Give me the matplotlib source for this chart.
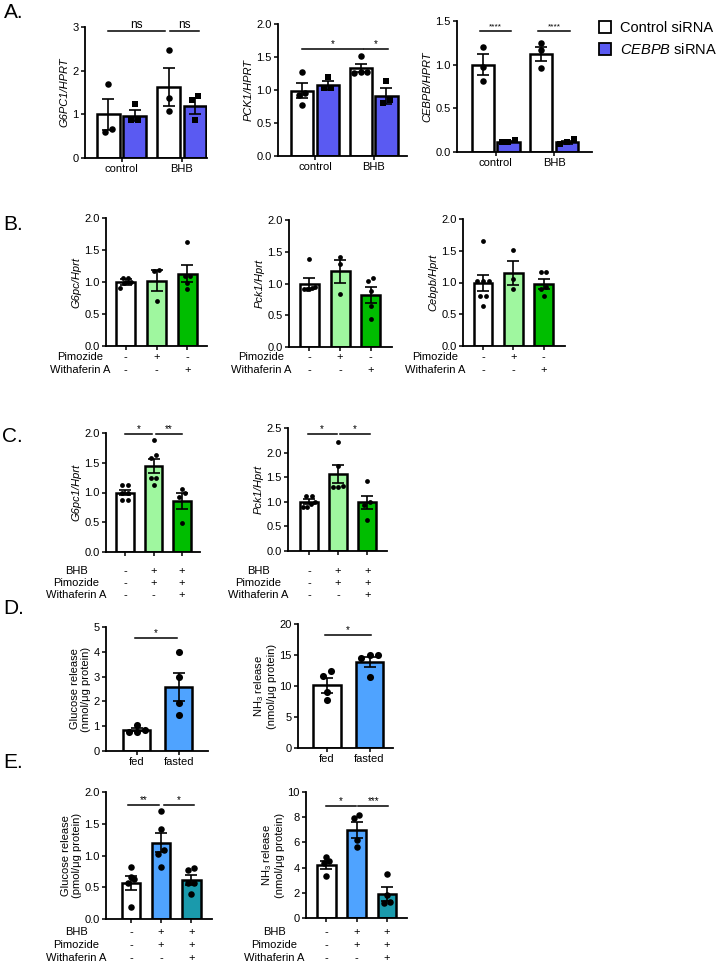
import numpy as np
import matplotlib
matplotlib.use('Agg')
import matplotlib.pyplot as plt
from matplotlib.patches import Patch
from matplotlib import transforms

plt.rcParams['font.family'] = ['Liberation Sans', 'DejaVu Sans']
plt.rcParams['mathtext.fontset'] = 'custom'
plt.rcParams['mathtext.rm'] = 'Liberation Sans'
plt.rcParams['mathtext.it'] = 'Liberation Sans:italic'

W, H = 716, 964

# colores
c_white = 'white'
c_siblue = '#5a5af2'
c_lgreen = '#9ff79f'
c_green = '#00bd00'
c_lblue = '#4fa3ff'
c_teal = '#1a9aac'

# ---- Panel A (control, BHB) ----
A_groups = ['control', 'BHB']
g6pc1_ctrl_mean = [1.0, 1.63]
g6pc1_ctrl_sem = [0.35, 0.43]
g6pc1_ctrl_pts = [[0.60, 0.66, 1.69], [2.47, 1.38, 1.08]]
g6pc1_kd_mean = [0.97, 1.19]
g6pc1_kd_sem = [0.13, 0.18]
g6pc1_kd_pts = [[0.86, 0.86, 1.24], [1.42, 1.32, 0.86]]

pck1_ctrl_mean = [0.99, 1.33]
pck1_ctrl_sem = [0.11, 0.06]
pck1_ctrl_pts = [[1.28, 0.95, 0.93, 0.77], [1.51, 1.27, 1.25, 1.28]]
pck1_kd_mean = [1.07, 0.91]
pck1_kd_sem = [0.07, 0.12]
pck1_kd_pts = [[1.19, 1.03, 1.03], [1.14, 0.81, 0.85]]

cebpb_ctrl_mean = [1.0, 1.12]
cebpb_ctrl_sem = [0.12, 0.08]
cebpb_ctrl_pts = [[1.20, 0.97, 0.81], [1.25, 1.17, 0.96]]
cebpb_kd_mean = [0.12, 0.11]
cebpb_kd_sem = [0.01, 0.02]
cebpb_kd_pts = [[0.12, 0.14, 0.12], [0.09, 0.15, 0.11]]

# ---- Panel B ----
b_g6pc_mean = [1.0, 1.02, 1.13]
b_g6pc_sem = [0.04, 0.16, 0.13]
b_g6pc_pts = [[1.07, 1.07, 0.91, 1.0, 1.0, 0.98], [1.19, 1.17, 0.70], [1.63, 1.09, 1.09, 0.99, 0.89]]
b_pck1_mean = [1.0, 1.19, 0.82]
b_pck1_sem = [0.08, 0.18, 0.12]
b_pck1_pts = [[1.38, 0.92, 0.92, 0.92, 0.93, 0.94], [1.42, 1.31, 0.84], [1.09, 1.04, 0.88, 0.64, 0.44]]
b_cebpb_mean = [0.99, 1.15, 0.98]
b_cebpb_sem = [0.13, 0.19, 0.08]
b_cebpb_pts = [[1.66, 1.03, 1.03, 1.03, 0.79, 0.79, 0.63], [1.51, 1.06, 0.89], [1.16, 1.16, 0.93, 0.90, 0.79]]
B_pimozide = ['-', '+', '-']
B_withaferin = ['-', '-', '+']

# ---- Panel C ----
c_g6pc1_mean = [1.0, 1.45, 0.86]
c_g6pc1_sem = [0.05, 0.12, 0.13]
c_g6pc1_pts = [[1.12, 1.12, 1.0, 1.0, 0.88, 0.88], [1.89, 1.63, 1.58, 1.25, 1.25, 1.12], [1.06, 0.99, 0.93, 0.48]]
c_pck1_mean = [1.0, 1.57, 0.99]
c_pck1_sem = [0.05, 0.18, 0.13]
c_pck1_pts = [[1.12, 1.12, 1.0, 0.96, 0.90, 0.90], [2.21, 1.72, 1.32, 1.31, 1.31], [1.42, 0.99, 0.93, 0.63]]
CE_bhb = ['-', '+', '+']
CE_pimozide = ['-', '+', '+']
CE_withaferin = ['-', '-', '+']

# ---- Panel D ----
D_groups = ['fed', 'fasted']
d_glc_mean = [0.86, 2.59]
d_glc_sem = [0.07, 0.57]
d_glc_pts = [[1.05, 0.85, 0.78, 0.76], [4.0, 2.99, 1.94, 1.45]]
d_nh3_mean = [10.1, 13.9]
d_nh3_sem = [1.2, 0.8]
d_nh3_pts = [[12.4, 11.6, 9.0, 7.7], [15.0, 15.0, 14.5, 11.5]]

# ---- Panel E ----
e_glc_mean = [0.57, 1.20, 0.62]
e_glc_sem = [0.11, 0.15, 0.08]
e_glc_pts = [[0.82, 0.66, 0.63, 0.57, 0.19], [1.70, 1.41, 1.09, 1.03, 0.82], [0.81, 0.77, 0.57, 0.56, 0.40]]
e_nh3_mean = [4.2, 6.97, 1.93]
e_nh3_sem = [0.35, 0.62, 0.57]
e_nh3_pts = [[4.87, 4.5, 4.4, 3.3], [8.16, 7.9, 6.18, 5.66], [3.47, 1.84, 1.18, 1.24]]

fig = plt.figure(figsize=(W / 100, H / 100), dpi=100)

FS = 8


def px_axes(x0, x1, ytop, ybot):
    ax = fig.add_axes([x0 / W, 1 - ybot / H, (x1 - x0) / W, (ybot - ytop) / H])
    for s in ['top', 'right']:
        ax.spines[s].set_visible(False)
    for s in ['left', 'bottom']:
        ax.spines[s].set_linewidth(1.3)
    ax.tick_params(labelsize=FS, width=1.1, length=3, pad=1.5)
    return ax


def swarm(vals, thr, step, maxspan):
    # puntos cercanos en y se reparten en horizontal
    vals = np.asarray(vals, float)
    order = np.argsort(vals)
    offs = np.zeros(len(vals))
    clusters = [[order[0]]]
    for i in order[1:]:
        if vals[i] - vals[clusters[-1][0]] < thr:
            clusters[-1].append(i)
        else:
            clusters.append([i])
    for c in clusters:
        k = len(c)
        st = step if k < 2 else min(step, maxspan / (k - 1))
        o = (np.arange(k) - (k - 1) / 2) * st
        for j, idx in enumerate(c):
            offs[idx] = o[j]
    return offs


def bar_set(ax, xs, means, sems, pts, colors, width, ymax, marker='o', ms=13):
    ax.bar(xs, means, width, color=colors, edgecolor='black', linewidth=1.8, zorder=2)
    ax.errorbar(xs, means, yerr=sems, fmt='none', ecolor='black', elinewidth=1.2,
                capsize=4, capthick=1.2, zorder=3)
    for x, p in zip(xs, pts):
        off = swarm(p, 0.045 * ymax, width * 0.3, width * 0.62)
        ax.scatter(x + off, p, s=ms, color='black', marker=marker, zorder=4, linewidths=0)


def sig(ax, x1, x2, y, txt, fs=7):
    ax.plot([x1, x2], [y, y], color='black', lw=1.1, clip_on=False, zorder=5)
    ax.text((x1 + x2) / 2, y, txt, ha='center', va='bottom', fontsize=fs, clip_on=False)


def table(ax, label_x, rows, ys):
    tr = transforms.blended_transform_factory(ax.transData, fig.transFigure)
    for (lab, signs), y in zip(rows, ys):
        fig.text(label_x / W, 1 - y / H, lab, ha='center', va='center', fontsize=FS)
        for i, s in enumerate(signs):
            ax.text(i, 1 - y / H, s, transform=tr, ha='center', va='center', fontsize=FS)


def panel_a(box, ylim, xlim, yticks, ylabel, cm, cs, cp, km, ks, kp):
    ax = px_axes(*box)
    xs = np.arange(len(A_groups))
    off, w = 0.22, 0.38
    bar_set(ax, xs - off, cm, cs, cp, c_white, w, ylim[1], 'o', 22)
    bar_set(ax, xs + off, km, ks, kp, c_siblue, w, ylim[1], 's', 20)
    ax.set_xlim(*xlim)
    ax.set_ylim(*ylim)
    ax.set_yticks(yticks)
    ax.set_xticks(xs)
    ax.set_xticklabels(A_groups, fontsize=FS)
    ax.set_ylabel(ylabel, fontsize=FS, style='italic', labelpad=2)
    return ax, xs, off


# A1
ax, xs, off = panel_a((85, 207, 27, 158), (0, 3), (-0.61, 1.42), [0, 1, 2, 3], 'G6PC1/HPRT',
                      g6pc1_ctrl_mean, g6pc1_ctrl_sem, g6pc1_ctrl_pts, g6pc1_kd_mean, g6pc1_kd_sem, g6pc1_kd_pts)
ax.set_yticklabels(['0', '1', '2', '3'])
sig(ax, xs[0] - off, xs[1] - off - 0.06, 2.9, 'ns', 8.5)
sig(ax, xs[1] - off + 0.02, xs[1] + off + 0.06, 2.9, 'ns', 8.5)

# A2
ax, xs, off = panel_a((278, 407, 24, 156), (0, 2), (-0.63, 1.57), [0, 0.5, 1.0, 1.5, 2.0], 'PCK1/HPRT',
                      pck1_ctrl_mean, pck1_ctrl_sem, pck1_ctrl_pts, pck1_kd_mean, pck1_kd_sem, pck1_kd_pts)
ax.set_yticklabels(['0.0', '0.5', '1.0', '1.5', '2.0'])
sig(ax, xs[0] - off, xs[1] - off + 0.04, 1.62, '*')
sig(ax, xs[1] - off + 0.06, xs[1] + off + 0.02, 1.62, '*')

# A3
ax, xs, off = panel_a((457, 592, 21, 152), (0, 1.5), (-0.66, 1.65), [0, 0.5, 1.0, 1.5], 'CEBPB/HPRT',
                      cebpb_ctrl_mean, cebpb_ctrl_sem, cebpb_ctrl_pts, cebpb_kd_mean, cebpb_kd_sem, cebpb_kd_pts)
ax.set_yticklabels(['0.0', '0.5', '1.0', '1.5'])
for g in xs:
    sig(ax, g - off - 0.05, g + off + 0.05, 1.39, '****', 6)

fig.legend(handles=[Patch(facecolor='white', edgecolor='black', linewidth=1.3),
                    Patch(facecolor=c_siblue, edgecolor='black', linewidth=1.3)],
           labels=['Control siRNA', r'$\it{CEBPB}$ siRNA'],
           loc='upper left', bbox_to_anchor=(599 / W, 1 - 21 / H), frameon=False,
           fontsize=10.5, handlelength=0.85, handleheight=0.85, handletextpad=0.6,
           labelspacing=0.5, borderaxespad=0, borderpad=0)


def panel_3(box, xlim, ylim, yticks, yticklabels, means, sems, pts, colors, ylabel, italic=True, w=0.62, ms=12):
    ax = px_axes(*box)
    xs = np.arange(3)
    bar_set(ax, xs, means, sems, pts, colors, w, ylim[1], 'o', ms)
    ax.set_xlim(*xlim)
    ax.set_ylim(*ylim)
    ax.set_yticks(yticks)
    ax.set_yticklabels(yticklabels)
    ax.set_xticks(xs)
    ax.set_xticklabels([])
    ax.set_ylabel(ylabel, fontsize=FS, style='italic' if italic else 'normal', labelpad=2, linespacing=1.1)
    return ax, xs


t2 = [0, 0.5, 1.0, 1.5, 2.0]
t2l = ['0.0', '0.5', '1.0', '1.5', '2.0']
greens = [c_white, c_lgreen, c_green]
blues = [c_white, c_lblue, c_teal]

# B
ax, xs = panel_3((106, 207, 218, 346), (-0.63, 2.63), (0, 2), t2, t2l, b_g6pc_mean, b_g6pc_sem, b_g6pc_pts, greens, 'G6pc/Hprt')
table(ax, 80, [('Pimozide', B_pimozide), ('Withaferin A', B_withaferin)], [357, 370])
ax, xs = panel_3((289, 392, 220, 347), (-0.67, 2.7), (0, 2), t2, t2l, b_pck1_mean, b_pck1_sem, b_pck1_pts, greens, 'Pck1/Hprt')
table(ax, 261, [('Pimozide', B_pimozide), ('Withaferin A', B_withaferin)], [357, 370])
ax, xs = panel_3((463, 565, 219, 346), (-0.66, 2.71), (0, 2), t2, t2l, b_cebpb_mean, b_cebpb_sem, b_cebpb_pts, greens, 'Cebpb/Hprt')
table(ax, 435, [('Pimozide', B_pimozide), ('Withaferin A', B_withaferin)], [357, 370])

ce_rows = [('BHB', CE_bhb), ('Pimozide', CE_pimozide), ('Withaferin A', CE_withaferin)]

# C
ax, xs = panel_3((106, 200, 433, 552), (-0.67, 2.63), (0, 2), t2, t2l, c_g6pc1_mean, c_g6pc1_sem, c_g6pc1_pts, greens, 'G6pc1/Hprt')
sig(ax, 0, 0.95, 1.98, '*')
sig(ax, 1.08, 2.0, 1.98, '**')
table(ax, 76, ce_rows, [571, 583, 595])
ax, xs = panel_3((288, 387, 428, 551), (-0.72, 2.68), (0, 2.5), [0, 0.5, 1.0, 1.5, 2.0, 2.5],
                 ['0.0', '0.5', '1.0', '1.5', '2.0', '2.5'], c_pck1_mean, c_pck1_sem, c_pck1_pts, greens, 'Pck1/Hprt')
sig(ax, -0.05, 0.95, 2.38, '*')
sig(ax, 1.05, 2.1, 2.38, '*')
table(ax, 258, ce_rows, [571, 583, 595])


def panel_d(box, xlim, ylim, yticks, means, sems, pts, ylabel):
    ax = px_axes(*box)
    xs = np.arange(2)
    bar_set(ax, xs, means, sems, pts, [c_white, c_lblue], 0.64, ylim[1], 'o', 26)
    ax.set_xlim(*xlim)
    ax.set_ylim(*ylim)
    ax.set_yticks(yticks)
    ax.set_xticks(xs)
    ax.set_xticklabels(D_groups, fontsize=FS)
    ax.set_ylabel(ylabel, fontsize=FS, labelpad=2, linespacing=1.1)
    return ax, xs


# D
ax, xs = panel_d((106, 208, 627, 751), (-0.73, 1.70), (0, 5), [0, 1, 2, 3, 4, 5], d_glc_mean, d_glc_sem, d_glc_pts,
                 'Glucose release\n(nmol/\u03bcg protein)')
sig(ax, -0.05, 0.95, 4.57, '*')
ax, xs = panel_d((298, 393, 624, 748), (-0.68, 1.55), (0, 20), [0, 5, 10, 15, 20], d_nh3_mean, d_nh3_sem, d_nh3_pts,
                 'NH$_3$ release\n(nmol/\u03bcg protein)')
sig(ax, -0.05, 1.03, 18.2, '*')

# E
ax, xs = panel_3((106, 212, 792, 919), (-0.83, 2.69), (0, 2), t2, t2l, e_glc_mean, e_glc_sem, e_glc_pts, blues,
                 'Glucose release\n(pmol/\u03bcg protein)', italic=False, ms=22)
sig(ax, -0.1, 0.92, 1.8, '**')
sig(ax, 1.08, 2.1, 1.8, '*')
table(ax, 76, ce_rows, [932, 945, 958])
ax, xs = panel_3((306, 407, 792, 918), (-0.67, 2.66), (0, 10), [0, 2, 4, 6, 8, 10],
                 ['0', '2', '4', '6', '8', '10'], e_nh3_mean, e_nh3_sem, e_nh3_pts, blues,
                 'NH$_3$ release\n(nmol/\u03bcg protein)', italic=False, ms=22)
sig(ax, 0.0, 0.97, 8.9, '*')
sig(ax, 1.05, 2.05, 8.9, '***')
table(ax, 274, ce_rows, [932, 945, 958])

# etiquetas de panel
for lab, x, y in [('A.', 4, 12), ('B.', 3, 225), ('C.', 2, 436), ('D.', 3, 608), ('E.', 3, 762)]:
    fig.text(x / W, 1 - y / H, lab, fontsize=15, ha='left', va='center')

fig.savefig('out.png', dpi=100)
